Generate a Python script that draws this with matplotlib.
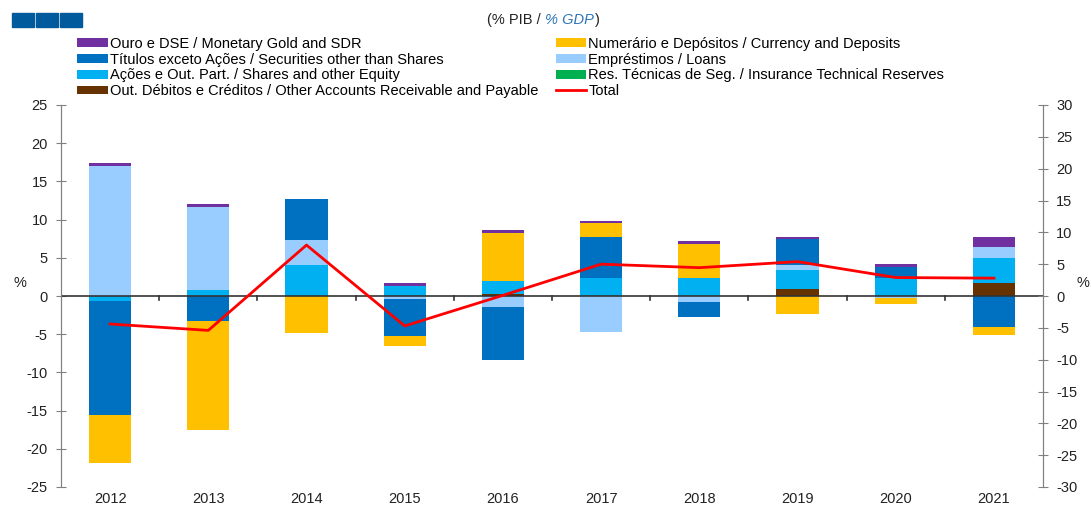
import matplotlib
matplotlib.use("Agg")
import matplotlib.pyplot as plt
from matplotlib.patches import Rectangle
import numpy as np

plt.rcParams['font.family'] = ['Liberation Sans', 'DejaVu Sans']
plt.rcParams['axes.unicode_minus'] = False

years = ['2012', '2013', '2014', '2015', '2016', '2017', '2018', '2019', '2020', '2021']

# stacking order (closest to zero first)
other_accounts = [0.0, 0.0, 0.0, 0.0, 0.2, 0.0, 0.0, 0.9, 0.0, 1.75]
insurance      = [0.0, 0.0, 0.0, 0.0, 0.1, 0.0, 0.0, 0.0, 0.0, 0.0]
shares         = [-0.7, 0.8, 4.0, 1.35, 1.6, 2.4, 2.3, 2.5, 2.4, 3.25]
loans          = [17.0, 10.9, 3.3, -0.4, -1.5, -4.75, -0.8, 0.6, -0.3, 1.45]
securities     = [-14.9, -3.3, 5.4, -4.8, -6.9, 5.3, -1.9, 3.4, 1.4, -4.1]
currency       = [-6.2, -14.3, -4.9, -1.35, 6.4, 1.8, 4.5, -2.3, -0.8, -0.95]
gold_sdr       = [0.4, 0.35, 0.0, 0.4, 0.35, 0.35, 0.35, 0.35, 0.4, 1.3]
total          = [-4.4, -5.4, 8.0, -4.7, 0.1, 5.0, 4.45, 5.4, 2.9, 2.8]

series = [
    ('Out. Débitos e Créditos / Other Accounts Receivable and Payable', other_accounts, '#663300'),
    ('Res. Técnicas de Seg. / Insurance Technical Reserves', insurance, '#00B050'),
    ('Ações e Out. Part. / Shares and other Equity', shares, '#00B0F0'),
    ('Empréstimos / Loans', loans, '#99CCFF'),
    ('Títulos exceto Ações / Securities other than Shares', securities, '#0070C0'),
    ('Numerário e Depósitos / Currency and Deposits', currency, '#FFC000'),
    ('Ouro e DSE / Monetary Gold and SDR', gold_sdr, '#7030A0'),
]

fig = plt.figure(figsize=(10.91, 5.09), dpi=100)
ax = fig.add_axes([61/1091, 22/509, (1043-61)/1091, (487-105)/509])
ax2 = ax.twinx()

x = np.arange(len(years))
pos_base = np.zeros(len(years))
neg_base = np.zeros(len(years))
handles = {}
for name, vals, col in series:
    v = np.array(vals)
    pos = np.where(v > 0, v, 0)
    neg = np.where(v < 0, v, 0)
    b = ax.bar(x, pos, 0.43, bottom=pos_base, color=col, edgecolor='none', zorder=2)
    ax.bar(x, neg, 0.43, bottom=neg_base, color=col, edgecolor='none', zorder=2)
    pos_base += pos
    neg_base += neg
    handles[name] = b

line, = ax2.plot(x, total, color='#FF0000', lw=2, zorder=5)

ax.set_xlim(-0.5, 9.5)
ax.set_ylim(-25, 25)
ax2.set_ylim(-30, 30)
ax.set_yticks(np.arange(-25, 26, 5))
ax2.set_yticks(np.arange(-30, 31, 5))

grey = '#808080'
for a in (ax, ax2):
    a.spines['top'].set_visible(False)
    a.spines['left'].set_color(grey)
    a.spines['right'].set_color(grey)
    a.spines['bottom'].set_visible(False)
ax.tick_params(axis='y', direction='inout', length=7, color=grey, labelsize=10.5, pad=6, labelcolor='#222222')
ax2.tick_params(axis='y', direction='inout', length=7, color=grey, labelsize=10.5, pad=6, labelcolor='#222222')

# zero line with boundary ticks
ax.axhline(0, color='#333333', lw=1.2, zorder=3)
ax.set_xticks(np.arange(-0.5, 10, 1.0))
ax.set_xticklabels([])
ax.tick_params(axis='x', length=0)
for xb in np.arange(0.5, 9.5, 1.0):
    ax.plot([xb, xb], [0, -0.5], color='#333333', lw=1.2, zorder=3)
for xi, yr in zip(x, years):
    ax.text(xi, -0.012, yr, transform=ax.get_xaxis_transform(), ha='center', va='top', fontsize=10.5, color='#222222')

fig.text(20/1091, 1 - 283/509, '%', ha='center', va='center', fontsize=10.5, color='#222222')
fig.text(1083/1091, 1 - 283/509, '%', ha='center', va='center', fontsize=10.5, color='#222222')

# legend
order = ['Ouro e DSE / Monetary Gold and SDR',
         'Títulos exceto Ações / Securities other than Shares',
         'Ações e Out. Part. / Shares and other Equity',
         'Out. Débitos e Créditos / Other Accounts Receivable and Payable',
         'Numerário e Depósitos / Currency and Deposits',
         'Empréstimos / Loans',
         'Res. Técnicas de Seg. / Insurance Technical Reserves',
         'Total']
hs = [handles[n] if n != 'Total' else line for n in order]
leg = fig.legend(hs, order, ncol=2, loc='upper left', bbox_to_anchor=(77/1091, 1 - 37/509),
                 frameon=False, fontsize=10.5, handlelength=2.1, handleheight=0.55,
                 handletextpad=0.15, columnspacing=1.2, labelspacing=0.12, borderpad=0,
                 borderaxespad=0)

# subtitle
t1 = fig.text(0.4995, 1 - 20/509, '(% PIB / ', ha='right', va='center', fontsize=10.5, color='#222222')
t2 = fig.text(0.4995, 1 - 20/509, '% GDP', ha='left', va='center', fontsize=10.5, color='#2E75B6', style='italic')
fig.canvas.draw()
bb = t2.get_window_extent()
fig.text(bb.x1 / fig.bbox.width + 0.001, 1 - 20/509, ')', ha='left', va='center', fontsize=10.5, color='#222222')

# logo squares
for i in range(3):
    fig.patches.append(Rectangle(((12 + i*24)/1091, 1 - 27/509), 22/1091, 14/509,
                                 transform=fig.transFigure, color='#005A9C', zorder=5))

fig.savefig('out.png', dpi=100)
